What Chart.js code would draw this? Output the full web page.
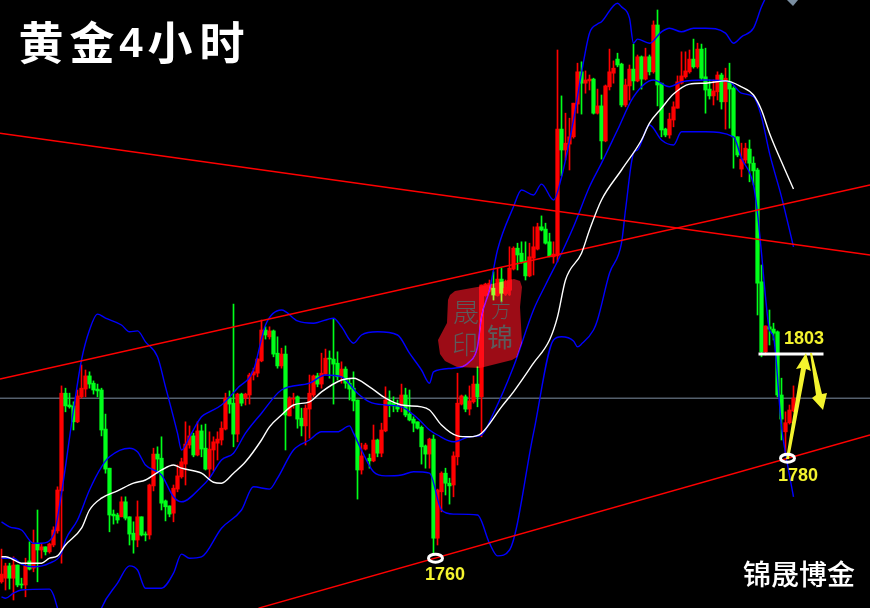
<!DOCTYPE html>
<html>
<head>
<meta charset="utf-8">
<style>
    html, body { margin: 0; padding: 0; background: #000; }
    canvas { display: block; }
</style>
<script src="https://cdn.jsdelivr.net/npm/chart.js@4"></script>
</head>
<body>
<canvas id="chart" width="870" height="608"></canvas>
<script>
// candles, one entry per 4h bar
const opens = [1753.0,1753.8,1756.5,1753.8,1756.7,1752.5,1752.3,1757.6,1756.0,1761.3,1760,1760.7,1759.6,1761.1,1764.2,1773,1794.5,1791.9,1791.7,1788.2,1793.7,1795.4,1798.3,1796.7,1795.4,1795.2,1786.6,1778,1767.9,1767.7,1767.3,1770.6,1767.3,1763.7,1762.2,1767.3,1763.5,1763.3,1774.1,1781.1,1780.2,1770.8,1769.7,1768.1,1773.4,1776.1,1778.9,1783.1,1785.1,1780.9,1786.2,1782.4,1777.8,1782,1783.5,1784.2,1786.6,1793.4,1792.3,1785.5,1794.3,1793.4,1794.1,1798.5,1798.9,1801.6,1808.4,1806.9,1808.2,1803.3,1800.5,1803.1,1789.5,1793.2,1793.7,1789,1787.3,1791,1794.1,1798.3,1796.5,1798.7,1802.2,1802,1801.1,1798.1,1799.8,1796.7,1795.6,1793,1777.6,1782.2,1780.2,1779.6,1784.2,1781.3,1786.2,1792.6,1792.3,1791.7,1791.7,1794.1,1789.9,1788.8,1788.2,1787,1782.9,1781.1,1784.4,1762.6,1772.8,1776.9,1774.7,1774.3,1780.5,1792.1,1793.7,1791,1792.6,1796.5,1793.7,1816.1,1817.2,1817.6,1816.1,1819.6,1816.5,1817.2,1821.8,1826.4,1825.3,1823.6,1820.3,1824.2,1826.2,1831.1,1830.6,1827.8,1824.5,1824.7,1852.6,1848,1849.3,1850.9,1858.1,1865.2,1862.7,1863.2,1863.6,1856.1,1857.7,1850,1861.9,1864.9,1868,1866.9,1857.9,1862.1,1865.8,1863.2,1868.5,1863.6,1868.5,1865.2,1875.5,1862.7,1852.6,1851.3,1854.6,1857.2,1862.7,1864.1,1865.2,1868,1866.3,1870.2,1864.1,1861.4,1859.9,1860.8,1864.5,1858.6,1863,1861.6,1850.9,1843.8,1845.8,1848.2,1845.1,1843.6,1819,1803.6,1809.1,1808.6,1808,1794.1,1786,1788,1790.6];
const highs = [1760.2,1757.1,1757.1,1758.5,1756.7,1753.8,1758.2,1761.8,1764.4,1768.8,1761.5,1760.7,1761.5,1765.1,1773.9,1796.1,1795.6,1794.5,1792.6,1795.2,1800.7,1799.6,1799.2,1797.2,1796.5,1795.6,1789.9,1778,1768.8,1768.1,1771.7,1771.7,1767.3,1766.2,1770.8,1767.3,1764,1774.5,1782.4,1782.7,1784.9,1771,1769.7,1774.3,1778.7,1780.2,1788.2,1787.3,1785.7,1788.2,1787.5,1787.7,1786,1784.9,1786,1788.2,1794.5,1795,1814.1,1794.5,1794.5,1794.5,1798.9,1800,1802.2,1810.6,1809.1,1809.1,1808.4,1806.9,1804.4,1804.9,1793.7,1794.5,1793.9,1791.2,1791.9,1798.5,1798.5,1798.9,1803.3,1804.2,1803.8,1810.8,1803.6,1801.4,1800.3,1797.8,1799.2,1793,1783.5,1783.5,1781.1,1787.5,1784.4,1787.9,1795.9,1795,1793.7,1793,1796.5,1795.6,1795.2,1789.3,1788.2,1787.3,1783.1,1784.6,1785.3,1773.4,1777.2,1778,1775.8,1781.6,1798.9,1794.1,1794.1,1796.1,1798.3,1800.3,1818.3,1818.7,1819.4,1821.2,1822,1822,1819.4,1826.7,1826.7,1827.5,1827.8,1827.8,1827.5,1831.1,1831.9,1833.5,1831.9,1829.7,1827.8,1870,1859.9,1856.1,1855,1858.3,1867.1,1867.4,1865.4,1864.5,1863.8,1861.4,1860.1,1862.3,1870.2,1867.6,1869.3,1867.1,1863.6,1866.7,1871.3,1868.9,1868.7,1870.4,1868.9,1876.4,1878.8,1862.7,1852.8,1856.1,1858.6,1864.3,1869.6,1869.6,1870,1872.4,1871.5,1871.3,1870.4,1863.4,1863.4,1865.2,1864.9,1866,1867.1,1861.9,1850.9,1849.5,1849.5,1850.2,1846.5,1844,1822.7,1809.3,1812.8,1809.9,1808.2,1797.8,1790.4,1791.9,1796.1];
const lows = [1752.7,1751.2,1751.4,1749.0,1751.9,1751.6,1749.7,1755.6,1755.2,1753.0,1758.2,1758.9,1759.3,1760.7,1763.7,1757.1,1790.4,1791.2,1786.4,1788,1793.4,1793.7,1795.6,1794.3,1793.7,1785.1,1776.9,1764,1765.7,1765.9,1767.3,1766.6,1761.1,1759.3,1760.7,1763.1,1762,1762.4,1773,1776.9,1768.8,1766.4,1767.3,1766.2,1772.8,1775.8,1774.3,1782.4,1780.5,1780.7,1780.5,1777.6,1775.8,1777.4,1779.8,1783.1,1786.4,1790.1,1782.7,1783.8,1791.7,1791.9,1792.1,1797.4,1798.1,1801.4,1806.4,1806.4,1802.5,1800,1800,1782,1789.5,1791.2,1786.8,1785.1,1783.1,1784.6,1793.7,1795.9,1795.6,1798.5,1797.8,1792.1,1797.4,1796.7,1795.6,1793,1790.6,1771.2,1776.7,1782,1778,1779.4,1780.5,1780.5,1786,1789.3,1790.4,1790.4,1790.4,1789.3,1788.4,1786,1786.6,1778.9,1778,1778,1759.3,1761.1,1768.4,1772.1,1770.1,1771.7,1778.7,1791.9,1790.4,1789.7,1792.3,1791.5,1784.9,1815.9,1816.8,1815,1815.9,1814.6,1816.1,1816.1,1821.6,1821.6,1823.1,1819.4,1820.1,1820.5,1826,1830.2,1827.3,1824.5,1823.1,1823.4,1842.3,1845.8,1843.6,1850.6,1856.1,1855.9,1860.5,1861.2,1855.9,1855.9,1846,1849.8,1861.2,1862.7,1866.3,1857.5,1857.5,1859,1861.2,1863,1861.4,1863.4,1864.5,1864.9,1857.7,1850.9,1850.9,1850.6,1853.1,1857.2,1862.5,1863.8,1864.9,1866,1866,1863.4,1856.1,1859.2,1857.9,1859,1857,1852.6,1852.8,1844,1846.5,1842.1,1845.1,1841,1840.3,1811.7,1802.5,1802.9,1805.1,1806.2,1793.7,1784.2,1780.9,1787.7,1790.4];
const closes = [1754.7,1756.5,1753.8,1756.7,1752.3,1752.3,1756.5,1755.8,1761.3,1760,1760.7,1759.6,1761.3,1764.4,1773.2,1794.5,1791.7,1791.5,1788.2,1793.9,1795.6,1798.3,1796.5,1795.2,1795,1786.4,1777.8,1767.7,1767.5,1766.6,1770.6,1767,1763.5,1762.2,1767.3,1763.3,1763.3,1774.3,1781.1,1780,1770.3,1769.5,1767.9,1773.6,1776.3,1779.4,1783.3,1785.1,1780.9,1786.2,1782.2,1777.8,1782.2,1783.8,1784.4,1786.8,1793.4,1792.1,1785.5,1794.3,1792.3,1794.3,1798.5,1799.2,1802,1808.4,1807.3,1808.2,1803.1,1800.5,1803.1,1789.7,1793.4,1793.4,1788.8,1787.3,1791.2,1794.5,1798.3,1796.5,1798.9,1802.2,1802,1800.9,1798.1,1799.8,1796.7,1795.4,1792.8,1777.6,1780.7,1783.1,1779.6,1784.2,1781.3,1786.4,1793,1791.9,1791.7,1791,1794.1,1789.7,1788.6,1787.9,1786.8,1782.7,1781.1,1784.4,1762.6,1773.2,1776.9,1774.7,1774.1,1780.7,1792.3,1793.9,1791,1792.8,1796.5,1793.7,1818.3,1818.5,1818.7,1816.1,1819.6,1816.5,1817.6,1822,1826.4,1824.9,1823.4,1820.3,1824.5,1826.7,1831.1,1830.4,1827.5,1824.5,1825.1,1852.6,1848,1849.5,1850.9,1858.3,1865.2,1862.7,1863.4,1863.6,1856.1,1857.7,1850,1862.1,1865.2,1866,1866.7,1857.9,1862.3,1865.8,1863.2,1868.5,1863.6,1868.5,1865.2,1875.5,1862.3,1852.4,1851.3,1854.8,1857.5,1863,1864.3,1865.4,1868,1866.3,1870.2,1863.8,1861.2,1859.9,1861,1864.5,1858.6,1863.8,1861.4,1850.9,1846.9,1846,1848.4,1845.1,1843.4,1818.7,1803.6,1809.3,1808.6,1807.7,1794.1,1788.8,1788,1790.8,1793.4];

const maBars = [0,1,4,5,10,12,14,16,20,22,25,29,33,36,40,43,45,50,53,55,58,61,65,67,70,73,77,80,85,88,92,96,100,105,107,110,114,117,120,125,128,133,137,139,141,145,147,150,155,160,162,165,168,172,176,181,185,188,190,192,195,198];
const maPrices = [1758.5,1758.5,1757.4,1757.1,1757.1,1758.2,1758.7,1761.1,1764.8,1768.8,1771.4,1773,1774.7,1775.4,1777.6,1778.7,1778,1776.9,1774.9,1774.7,1776.9,1779.4,1784.2,1787.1,1789.7,1791.9,1792.6,1794.8,1797.4,1797.8,1795.9,1793.4,1791.9,1791.5,1790.8,1787.5,1785.1,1784.9,1785.7,1791.5,1794.8,1801.1,1806.2,1811.3,1819.4,1825.3,1830.4,1837,1843.6,1850.2,1853.9,1857.2,1860.3,1862.5,1862.7,1863.2,1861.9,1860.1,1856.8,1851.7,1845.4,1839.4];
const upperBars = [0,2,5,8,10,13,15,18,20,22,24,26,30,32,34,36,39,41,44,45,47,50,52,55,59,63,66,70,74,78,83,85,88,90,94,99,102,105,107,108,113,117,119,120,122,124,128,130,133,135,138,140,141,143,145,147,149,150,154,155,157,158,159,162,165,167,170,173,176,181,183,185,188,190,192];
const upperPrices = [1766.2,1765.1,1764.4,1761.5,1761.5,1763.3,1772.5,1790.8,1801.8,1808.4,1811.9,1811,1809.5,1808,1808.2,1805.8,1802.5,1795.9,1785.7,1782,1784.9,1789.3,1790.4,1791.9,1795.6,1799.6,1809.5,1812.8,1810.4,1809.9,1811,1809.1,1805.5,1807.3,1808,1807.3,1803.3,1799.6,1796.7,1799.2,1800,1801.4,1804.7,1811.3,1817.2,1826,1835.5,1839.2,1838.1,1840.5,1837,1842,1845.8,1854.6,1864.9,1873.7,1875.7,1876.2,1880.3,1879.5,1877,1871.5,1872.4,1871.5,1874,1874.8,1874,1874.8,1874.8,1873.7,1871.5,1872.9,1874.8,1879.5,1883.2];
const midBars = [0,3,5,8,12,15,16,19,22,25,27,32,34,36,40,43,45,50,52,55,58,61,65,70,77,81,85,89,92,96,100,104,107,109,113,117,120,123,128,133,136,140,143,147,150,154,158,163,167,170,176,182,185,188,190,192,195,198];
const midPrices = [1758.2,1758.2,1756.9,1756.3,1757.1,1759.3,1762.2,1766.6,1773.2,1778.3,1780.5,1782.4,1781.6,1778.7,1776.5,1771.7,1770.6,1773.9,1775.8,1779.8,1781.3,1785.7,1790.1,1795.2,1796.7,1798.5,1798.1,1794.5,1792.6,1791.9,1791.5,1789,1786.4,1785.3,1783.8,1784.9,1785.3,1790.1,1800.3,1812.8,1818.3,1825.3,1831.1,1839.9,1845.1,1852.4,1859.7,1863.4,1861.9,1863,1863.4,1863,1860.5,1859.7,1855.3,1847.3,1837.7,1826.7];
const lowerBars = [0,1,3,5,12,13,14,15,24,25,29,32,34,36,40,43,45,47,50,55,60,63,67,69,73,77,80,84,87,88,90,93,96,100,103,107,110,113,119,122,124,127,133,138,140,143,144,145,148,149,152,155,156,158,159,162,165,168,170,176,183,185,188,189,190,191,192,193,195,196,198];
const lowerPrices = [1749.7,1749.4,1750.5,1751.2,1751.4,1750.1,1747.2,1744.6,1744.2,1747.2,1752.7,1756.5,1755.6,1751.6,1751.6,1754.9,1759.1,1758.2,1758.5,1764.8,1768.8,1773.9,1773.4,1775.8,1782,1784.2,1786,1786,1787.3,1785.7,1782,1777.2,1776.3,1776.5,1777.2,1776.9,1768.8,1767.9,1767.7,1761.5,1758.7,1760,1785.7,1806.2,1806.9,1806,1804.7,1805.3,1808.4,1810.6,1820.9,1827.5,1834.8,1847.3,1848,1853.5,1850.2,1849.1,1852,1852,1850.9,1846.2,1840.3,1834.1,1825.3,1815.7,1808.4,1806.9,1787.1,1781.3,1771.7];

// hand drawn lines: first and last bar, first and last price
const channelTopBars = [-0.375, 217.125];
const channelTopPrices = [1851.7, 1824.9];
const channelMidBars = [-0.375, 217.125];
const channelMidPrices = [1797.6, 1840.3];
const channelLowBars = [64.25, 217.125];
const channelLowPrices = [1747.2, 1785.3];
const priceLineBars = [-0.375, 217.125];
const priceLinePrices = [1793.4, 1793.4];
const resistanceBars = [189.25, 205.5];
const resistancePrices = [1803.1, 1803.1];

// circled lows
const circleBars = [108.5, 196.5];
const circlePrices = [1758.2, 1780.2];

const RED = "#ff0000";
const GREEN = "#00ff1a";
const YELLOW = "#f4f42e";

const points = (xs, ys) => xs.map((x, i) => ({ x, y: ys[i] }));
const candleColors = closes.map((c, i) => c >= opens[i] ? RED : GREEN);

const wickData = highs.map((h, i) => ({ x: i, y: [lows[i], h] }));
const bodyData = closes.map((c, i) => ({ x: i, y: [opens[i], c] }));

const lineSet = (data, color, order, width = 1.4) => ({
    type: "line",
    data,
    borderColor: color,
    borderWidth: width,
    pointRadius: 0,
    cubicInterpolationMode: "monotone",
    order
});

const polygon = (ctx, pts, color) => {
    ctx.fillStyle = color;
    ctx.beginPath();
    pts.forEach(([x, y], i) => i ? ctx.lineTo(x, y) : ctx.moveTo(x, y));
    ctx.closePath();
    ctx.fill();
};

const label = (ctx, text, x, y, font, color) => {
    ctx.font = font;
    ctx.fillStyle = color;
    ctx.fillText(text, x, y);
};

const overlay = {
    id: "overlay",
    afterDatasetsDraw(chart) {
        const { ctx, scales } = chart;
        ctx.save();
        ctx.textAlign = "center";
        ctx.textBaseline = "middle";

        // seal, blended so the candles shine through it
        ctx.globalCompositeOperation = "lighter";
        polygon(ctx, [[450,295],[455,291],[483,286],[514,279],[520,281],[522,287],[520,307],[522,343],[517,357],[512,360],[480,368],[457,367],[445,361],[440,354],[438,340],[447,323],[448,300]], "#9c0c16");
        ctx.globalCompositeOperation = "source-over";
        label(ctx, "晟", 466, 312, "300 26px 'Noto Sans CJK SC'", "#5c5c5c");
        label(ctx, "印", 465, 344, "300 26px 'Noto Sans CJK SC'", "#5c5c5c");
        label(ctx, "方", 501, 310, "300 20px 'Noto Sans CJK SC'", "#5c5c5c");
        label(ctx, "锦", 500, 337, "400 26px 'Noto Sans CJK SC'", "#5c5c5c");

        // arrows
        polygon(ctx, [[786,459],[801,368],[796,369],[806,353],[811,371],[806,369],[789,459]], YELLOW);
        polygon(ctx, [[810,353],[816,395],[812,398],[823,410],[827,393],[822,394],[812,353]], YELLOW);

        // circled lows
        ctx.strokeStyle = "#fff";
        ctx.lineWidth = 3;
        circleBars.forEach((bar, i) => {
            ctx.beginPath();
            ctx.ellipse(scales.x.getPixelForValue(bar), scales.y.getPixelForValue(circlePrices[i]), 7, 4, 0, 0, Math.PI * 2);
            ctx.stroke();
        });

        label(ctx, "1760", 445, 575, "bold 18px 'Liberation Sans'", YELLOW);
        label(ctx, "1780", 798, 476, "bold 18px 'Liberation Sans'", YELLOW);
        label(ctx, "1803", 804, 339, "bold 18px 'Liberation Sans'", YELLOW);

        label(ctx, "黄", 41, 43, "bold 45px 'Noto Sans CJK SC'", "#fff");
        label(ctx, "金", 92, 43, "bold 45px 'Noto Sans CJK SC'", "#fff");
        label(ctx, "4", 131, 45, "bold 42px 'Liberation Sans'", "#fff");
        label(ctx, "小", 170, 43, "bold 45px 'Noto Sans CJK SC'", "#fff");
        label(ctx, "时", 222, 43, "bold 45px 'Noto Sans CJK SC'", "#fff");
        label(ctx, "锦晟博金", 799, 574, "500 28px 'Noto Sans CJK SC'", "#fff");

        // bit of the window chrome at the top edge
        polygon(ctx, [[787,0],[798,0],[793,6]], "#7a8ea0");
        ctx.restore();
    }
};

new Chart(document.getElementById("chart").getContext("2d"), {
    data: {
        datasets: [
            lineSet(points(maBars, maPrices), "#ffffff", 1),
            lineSet(points(channelTopBars, channelTopPrices), RED, 2),
            lineSet(points(channelMidBars, channelMidPrices), RED, 2),
            lineSet(points(channelLowBars, channelLowPrices), RED, 2),
            lineSet(points(resistanceBars, resistancePrices), "#ffffff", 0, 3),
            lineSet(points(upperBars, upperPrices), "#0000ff", 3),
            lineSet(points(midBars, midPrices), "#0000ff", 3),
            lineSet(points(lowerBars, lowerPrices), "#0000ff", 3),
            lineSet(points(priceLineBars, priceLinePrices), "#7f90a4", 6, 1),
            {
                type: "bar",
                data: bodyData,
                backgroundColor: candleColors,
                barThickness: 3.6,
                minBarLength: 1,
                grouped: false,
                order: 4
            },
            {
                type: "bar",
                data: wickData,
                backgroundColor: candleColors,
                barThickness: 1,
                grouped: false,
                order: 5
            }
        ]
    },
    options: {
        responsive: false,
        devicePixelRatio: 1,
        animation: false,
        layout: { padding: 0 },
        plugins: { legend: { display: false }, tooltip: { enabled: false } },
        scales: {
            x: { type: "linear", offset: false, min: -0.375, max: 217.125, display: false },
            y: { min: 1747.24, max: 1881, display: false }
        }
    },
    plugins: [overlay]
});
</script>
</body>
</html>
